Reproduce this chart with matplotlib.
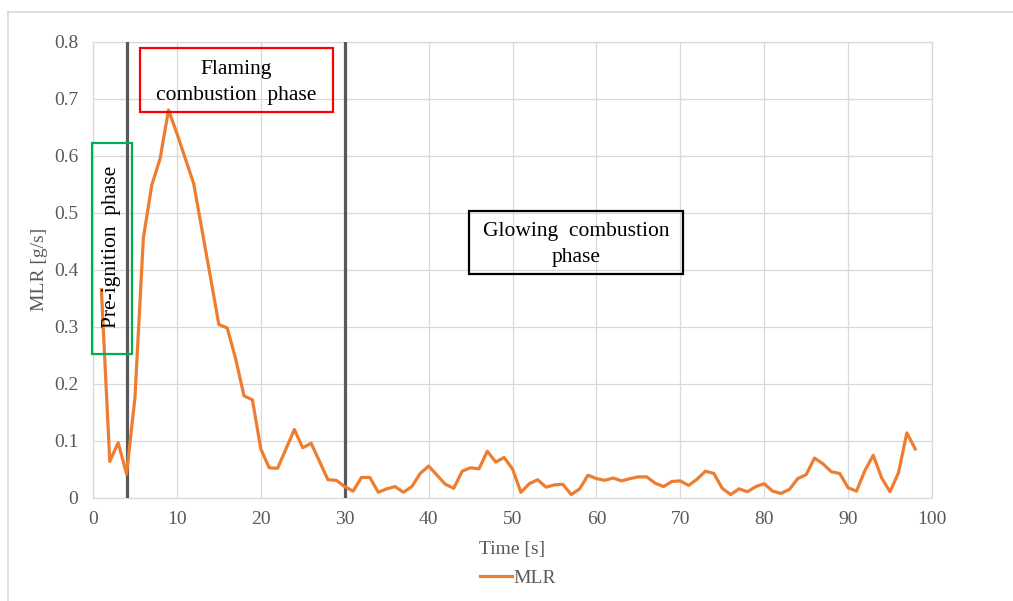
import matplotlib
matplotlib.use("Agg")
import matplotlib.pyplot as plt
from matplotlib.patches import Rectangle
from matplotlib.lines import Line2D

# ---- data ----
time_s = list(range(1, 99))
mlr = [0.365, 0.064, 0.097, 0.042, 0.176, 0.455, 0.548, 0.595, 0.680, 0.639,
       0.595, 0.551, 0.469, 0.387, 0.304, 0.298, 0.244, 0.179, 0.172, 0.086,
       0.053, 0.052, 0.086, 0.120, 0.088, 0.096, 0.064, 0.032, 0.031, 0.020,
       0.012, 0.036, 0.036, 0.010, 0.016, 0.020, 0.010, 0.020, 0.043, 0.056,
       0.040, 0.024, 0.017, 0.047, 0.053, 0.051, 0.082, 0.063, 0.071, 0.051,
       0.010, 0.025, 0.032, 0.019, 0.023, 0.024, 0.006, 0.016, 0.040, 0.034,
       0.031, 0.035, 0.030, 0.034, 0.037, 0.037, 0.026, 0.020, 0.029, 0.030,
       0.022, 0.033, 0.047, 0.043, 0.017, 0.006, 0.016, 0.011, 0.020, 0.025,
       0.012, 0.008, 0.015, 0.034, 0.041, 0.070, 0.060, 0.046, 0.043, 0.018,
       0.012, 0.048, 0.075, 0.035, 0.011, 0.044, 0.114, 0.086]
phase_bounds = [4, 30]
x_ticks = [0, 10, 20, 30, 40, 50, 60, 70, 80, 90, 100]
y_ticks = [0, 0.1, 0.2, 0.3, 0.4, 0.5, 0.6, 0.7, 0.8]
y_tick_labels = ["0", "0.1", "0.2", "0.3", "0.4", "0.5", "0.6", "0.7", "0.8"]

plt.rcParams['font.family'] = ['Liberation Serif', 'DejaVu Serif']

W, H = 1013, 601
fig = plt.figure(figsize=(W / 100, H / 100), dpi=100)
ax = fig.add_axes([93 / W, 1 - 498 / H, (932 - 93) / W, (498 - 41.5) / H])

grid_c = '#d9d9d9'
text_c = '#595959'

ax.plot(time_s, mlr, color='#ED7D31', lw=2.3, label='MLR', zorder=4,
        solid_joinstyle='round')
for b in phase_bounds:
    ax.axvline(b, color='#595959', lw=2.3, zorder=3)

ax.set_xlim(0, 100)
ax.set_ylim(0, 0.8)
ax.set_xticks(x_ticks)
ax.set_yticks(y_ticks)
ax.set_yticklabels(y_tick_labels)
ax.grid(True, color=grid_c, lw=0.9, zorder=0)
ax.set_axisbelow(True)
for s in ax.spines.values():
    s.set_color(grid_c)
    s.set_linewidth(0.9)
ax.tick_params(length=0, labelsize=14, labelcolor=text_c)
ax.tick_params(axis='y', pad=10.5)
ax.tick_params(axis='x', pad=9.5)
ax.set_xlabel('Time [s]', fontsize=14, color=text_c, labelpad=9)
ax.set_ylabel('MLR [g/s]', fontsize=14, color=text_c, labelpad=4)

# annotation boxes (data coordinates)
boxes = [
    ((-0.15, 0.252), 4.76, 0.371, '#00B050'),
    ((5.6, 0.676), 23.0, 0.112, '#FF0000'),
    ((44.85, 0.3926), 25.45, 0.111, '#000000'),
]
for (xy, w, h, c) in boxes:
    ax.add_patch(Rectangle(xy, w, h, fill=False, edgecolor=c,
                           lw=1.6, zorder=5, clip_on=False))

ax.text(2.23, 0.440, 'Pre-ignition  phase', rotation=90, ha='center', va='center',
        fontsize=15.5, color='black', zorder=6)
ax.text(17.1, 0.728, 'Flaming\ncombustion  phase', ha='center', va='center',
        fontsize=15.5, color='black', zorder=6, linespacing=1.5)
ax.text(57.6, 0.444, 'Glowing  combustion\nphase', ha='center', va='center',
        fontsize=15.5, color='black', zorder=6, linespacing=1.5)

leg = fig.legend(loc='center', bbox_to_anchor=(518 / W, 1 - 578 / H), frameon=False,
                 fontsize=14, handlelength=1.65, handletextpad=0.1)
for t in leg.get_texts():
    t.set_color(text_c)

# chart frame
fig.add_artist(Line2D([7.5 / W, 1], [1 - 11.5 / H, 1 - 11.5 / H], color=grid_c, lw=1.2))
fig.add_artist(Line2D([7.5 / W, 7.5 / W], [0, 1 - 11.5 / H], color=grid_c, lw=1.2))

fig.savefig('out.png', dpi=100)
